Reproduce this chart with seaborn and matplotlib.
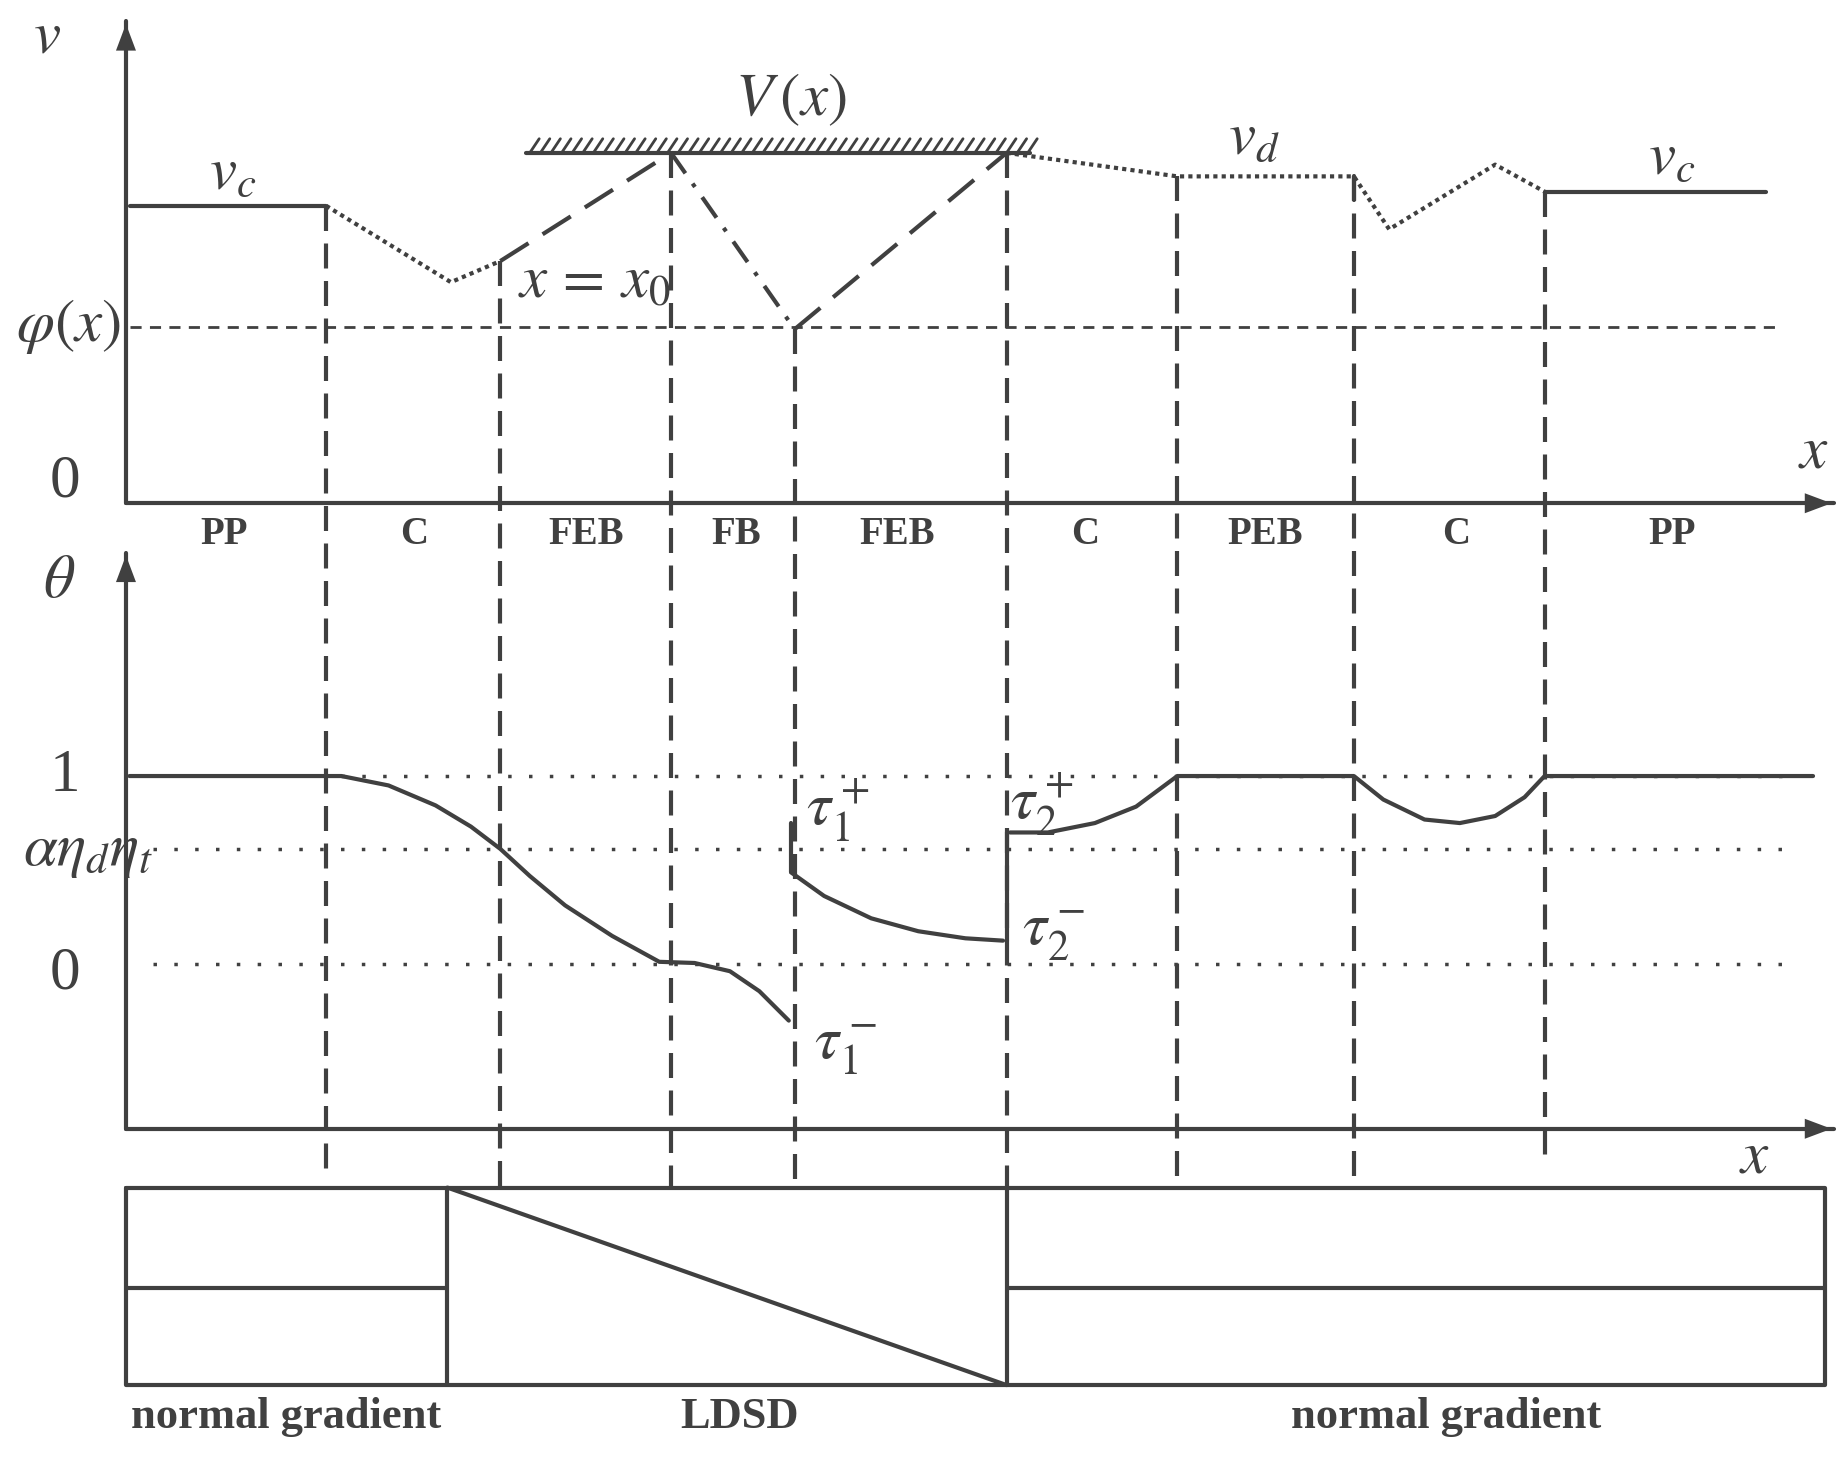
import matplotlib.pyplot as plt
import seaborn as sns
import pandas as pd
import numpy as np

sns.set_theme(style='white')
plt.rcParams['font.family'] = ['Liberation Serif', 'DejaVu Serif']
plt.rcParams['mathtext.fontset'] = 'stix'

C = '#404040'
LW = 3

# diagram coordinates (scheme units, y grows downward)
bounds = [277, 425, 570, 675, 855, 1000, 1150, 1312]
bound_top = [175, 222, 130, 280, 130, 150, 150, 163]
bound_bot = [1000, 1010, 1010, 1010, 1010, 1010, 1010, 990]
regions = ['PP', 'C', 'FEB', 'FB', 'FEB', 'C', 'PEB', 'C', 'PP']
region_x = [190, 352, 498, 625, 762, 922, 1075, 1237, 1420]

# speed profile segments
v_solid1 = ([110, 277], [175, 175])
v_dot1 = ([277, 383, 425], [175, 240, 222])
v_dash1 = ([425, 570], [222, 130])
v_dashdot = ([570, 675], [130, 280])
v_dash2 = ([675, 855], [280, 130])
v_dot2 = ([855, 1000, 1150, 1180, 1270, 1312], [130, 150, 150, 195, 140, 163])
v_solid2 = ([1312, 1500], [163, 163])

# theta profile segments
th1 = ([110, 290, 330, 370, 400, 425, 450, 480, 520, 560, 590, 620, 645, 670],
       [660, 660, 668, 685, 703, 722, 745, 770, 796, 818, 819, 826, 843, 868])
th2 = ([672, 700, 740, 780, 820, 852], [742, 762, 781, 792, 798, 800])
th3 = ([858, 890, 930, 965, 1000, 1150, 1175, 1210, 1240, 1270, 1295, 1312, 1540],
       [708, 708, 700, 686, 660, 660, 680, 697, 700, 694, 678, 660, 660])

fig = plt.figure(figsize=(18.46, 14.58), dpi=100)
ax = fig.add_axes([0, 0, 1, 1])
ax.set_xlim(0, 1568)
ax.set_ylim(1240, 0)
ax.axis('off')

def arrow(x0, y0, x1, y1):
    ax.plot([x0, x1], [y0, y1], color=C, lw=LW)
    ax.annotate('', xy=(x1, y1), xytext=(x0 + (x1 - x0) * 0.97, y0 + (y1 - y0) * 0.97),
                arrowprops=dict(arrowstyle='-|>,head_width=0.6,head_length=1.6',
                                color=C, lw=0))

arrow(107, 428, 107, 18)
arrow(107, 428, 1558, 428)
arrow(107, 960, 107, 470)
arrow(107, 960, 1558, 960)

for x, t, b in zip(bounds, bound_top, bound_bot):
    ax.plot([x, x], [t, b], color=C, lw=LW, ls=(0, (6, 3)))

ax.plot([110, 1510], [278, 278], color=C, lw=2, ls=(0, (4, 3)))

df = pd.DataFrame({'x': v_solid1[0], 'y': v_solid1[1]})
sns.lineplot(data=df, x='x', y='y', ax=ax, color=C, lw=LW, sort=False)
ax.plot(*v_solid2, color=C, lw=LW)
ax.plot(*v_dot1, color=C, lw=LW, ls=(0, (1, 1)))
ax.plot(*v_dot2, color=C, lw=LW, ls=(0, (1, 1)))
ax.plot(*v_dash1, color=C, lw=LW, ls=(0, (8, 4)))
ax.plot(*v_dash2, color=C, lw=LW, ls=(0, (8, 4)))
ax.plot(*v_dashdot, color=C, lw=LW, ls=(0, (6, 3, 1, 3)))
ax.plot([1150, 1150], [150, 170], color=C, lw=LW)

# hatched constraint line
ax.plot([447, 875], [130, 130], color=C, lw=LW)
for hx in np.arange(450, 875, 9):
    ax.plot([hx, hx + 8], [130, 118], color=C, lw=2)

ts = dict(color=C, fontsize=44, ha='center', va='center')
ax.text(40, 32, '$v$', **ts)
ax.text(55, 410, '0', **ts)
ax.text(1540, 385, '$x$', **ts)
ax.text(58, 278, r'$\varphi(x)$', **ts)
ax.text(672, 85, '$V\\,(x)$', **ts)
ax.text(198, 148, '$v_c$', **ts)
ax.text(1420, 135, '$v_c$', **ts)
ax.text(1065, 118, '$v_d$', **ts)
ax.text(505, 240, '$x\\,=\\,x_0$', **ts)
for r, x in zip(regions, region_x):
    ax.text(x, 455, r, color=C, fontsize=28, fontweight='bold', ha='center', va='center')

for y, x0 in zip([660, 722, 820], [290, 130, 130]):
    ax.plot([x0, 1525], [y, y], color=C, lw=2.5, ls=(0, (1, 5)))
ax.plot(*th1, color=C, lw=LW)
ax.plot(*th2, color=C, lw=LW)
ax.plot(*th3, color=C, lw=LW)
ax.plot([672, 672], [742, 700], color=C, lw=LW)
ax.plot([855, 855], [708, 800], color=C, lw=LW)

ax.text(50, 495, r'$\theta$', **ts)
ax.text(1490, 985, '$x$', **ts)
ax.text(55, 660, '1', **ts)
ax.text(75, 725, r'$\alpha\eta_d\eta_t$', **ts)
ax.text(55, 828, '0', **ts)
ax.text(712, 690, r'$\tau_1^+$', **ts)
ax.text(718, 892, r'$\tau_1^-$', **ts)
ax.text(885, 685, r'$\tau_2^+$', **ts)
ax.text(895, 795, r'$\tau_2^-$', **ts)

# gradient box
ax.plot([107, 1550, 1550, 107, 107], [1010, 1010, 1178, 1178, 1010], color=C, lw=LW)
ax.plot([107, 380], [1095, 1095], color=C, lw=LW)
ax.plot([380, 380], [1010, 1178], color=C, lw=LW)
ax.plot([380, 855], [1010, 1178], color=C, lw=LW)
ax.plot([855, 855], [1010, 1178], color=C, lw=LW)
ax.plot([855, 1550], [1095, 1095], color=C, lw=LW)
for t, x in zip(['normal gradient', 'LDSD', 'normal gradient'], [243, 628, 1228]):
    ax.text(x, 1205, t, color=C, fontsize=32, fontweight='bold', ha='center', va='center')

fig.savefig('out.png', dpi=100)
